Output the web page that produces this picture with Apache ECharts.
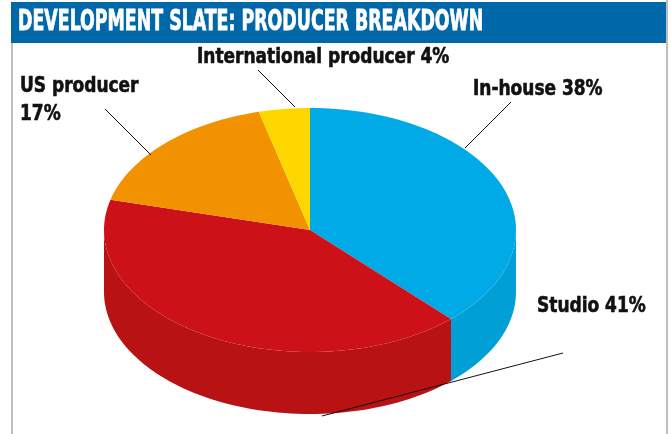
<!DOCTYPE html>
<html>
<head>
<meta charset="utf-8">
<script src="https://cdn.jsdelivr.net/npm/echarts@6/dist/echarts.min.js"></script>
<style>
html,body{margin:0;padding:0;background:#fff;}
#graphic{width:671px;height:434px;}
</style>
</head>
<body>
<div id="graphic"></div>
<script>
// 数据
var names = ['In-house', 'Studio', 'US producer', 'International producer'];
var values = [38, 41, 17, 4];
var topColors = ['#00aae6', '#cd1118', '#f39200', '#ffd700'];
var sideColors = ['#00a0d6', '#b91214', '#dc8400', '#e8c200'];

var titleText = 'DEVELOPMENT SLATE: PRODUCER BREAKDOWN';
var FONT = '"DejaVu Sans Condensed", "Liberation Sans Narrow", sans-serif';

// 饼图几何
var cx = 310, cy = 230, rx = 206, ry = 122, depth = 62;

// 标签位置 / 引导线 (与数据同序)
var labelPos = [[473, 90], [537, 307], [20, 101], [197, 58]];
var leaderLines = [
    [511, 102, 465, 148],
    [563, 353, 322, 416],
    [105, 109, 151, 155],
    [258, 70, 295, 107]
];

function pt(t, dy){
    var a = t * Math.PI * 2;
    return [cx + rx * Math.sin(a), cy - ry * Math.cos(a) + (dy || 0)];
}

function arc(t0, t1, dy){
    var pts = [];
    var n = Math.max(2, Math.ceil((t1 - t0) * 200));
    for(var i=0; i<=n; i++){
        pts.push(pt(t0 + (t1 - t0) * i / n, dy));
    }
    return pts;
}

var total = 0;
for(var i=0; i<values.length; i++) total += values[i];
var slices = [];
var acc = 0;
for(var i=0; i<values.length; i++){
    slices.push([acc / total, (acc + values[i]) / total]);
    acc += values[i];
}

function renderItem(params, api){
    var idx = params.dataIndex;
    var t0 = api.value(0), t1 = api.value(1);
    var children = [];
    // 侧面 (前半部分)
    var s0 = Math.max(t0, 0.25), s1 = Math.min(t1, 0.75);
    if(s0 < s1){
        var pts = arc(s0, s1, 0).concat(arc(s0, s1, depth).reverse());
        children.push({type:'polygon', shape:{points:pts}, style:{fill:sideColors[idx]}});
    }
    // 顶面
    var tp = [[cx, cy]].concat(arc(t0, t1, 0));
    children.push({type:'polygon', shape:{points:tp}, style:{fill:topColors[idx]}});
    return {type:'group', children:children};
}

var graphics = [
    {type:'rect', shape:{x:11, y:2, width:655, height:41}, style:{fill:'#0068a9'}, z:100},
    {type:'text', x:18, y:23, scaleX:0.69, z:101,
        style:{text:titleText, fill:'#fff', font:'bold 28px ' + FONT, verticalAlign:'middle',
               stroke:'#fff', lineWidth:0.8}},
    {type:'line', shape:{x1:12, y1:43, x2:12, y2:434}, style:{stroke:'#a8a8a8', lineWidth:1.5}, z:100},
    {type:'line', shape:{x1:667, y1:0, x2:667, y2:434}, style:{stroke:'#a8a8a8', lineWidth:1.5}, z:100}
];
for(var i=0; i<names.length; i++){
    var txt = (names[i] == 'US producer') ? names[i] + '\n' + values[i] + '%' : names[i] + ' ' + values[i] + '%';
    graphics.push({type:'text', x:labelPos[i][0], y:labelPos[i][1], scaleX:0.9, z:101,
        style:{text:txt, fill:'#111', font:'bold 21px ' + FONT, verticalAlign:'middle', lineHeight:28,
               stroke:'#111', lineWidth:0.6}});
    var l = leaderLines[i];
    graphics.push({type:'line', z:101, shape:{x1:l[0], y1:l[1], x2:l[2], y2:l[3]}, style:{stroke:'#111', lineWidth:1}});
}

var option = {
    animation: false,
    graphic: graphics,
    series: [{
        type: 'custom',
        coordinateSystem: 'none',
        renderItem: renderItem,
        data: slices
    }]
};

var graphic = echarts.init(document.getElementById('graphic'));
graphic.setOption(option);
</script>
</body>
</html>
